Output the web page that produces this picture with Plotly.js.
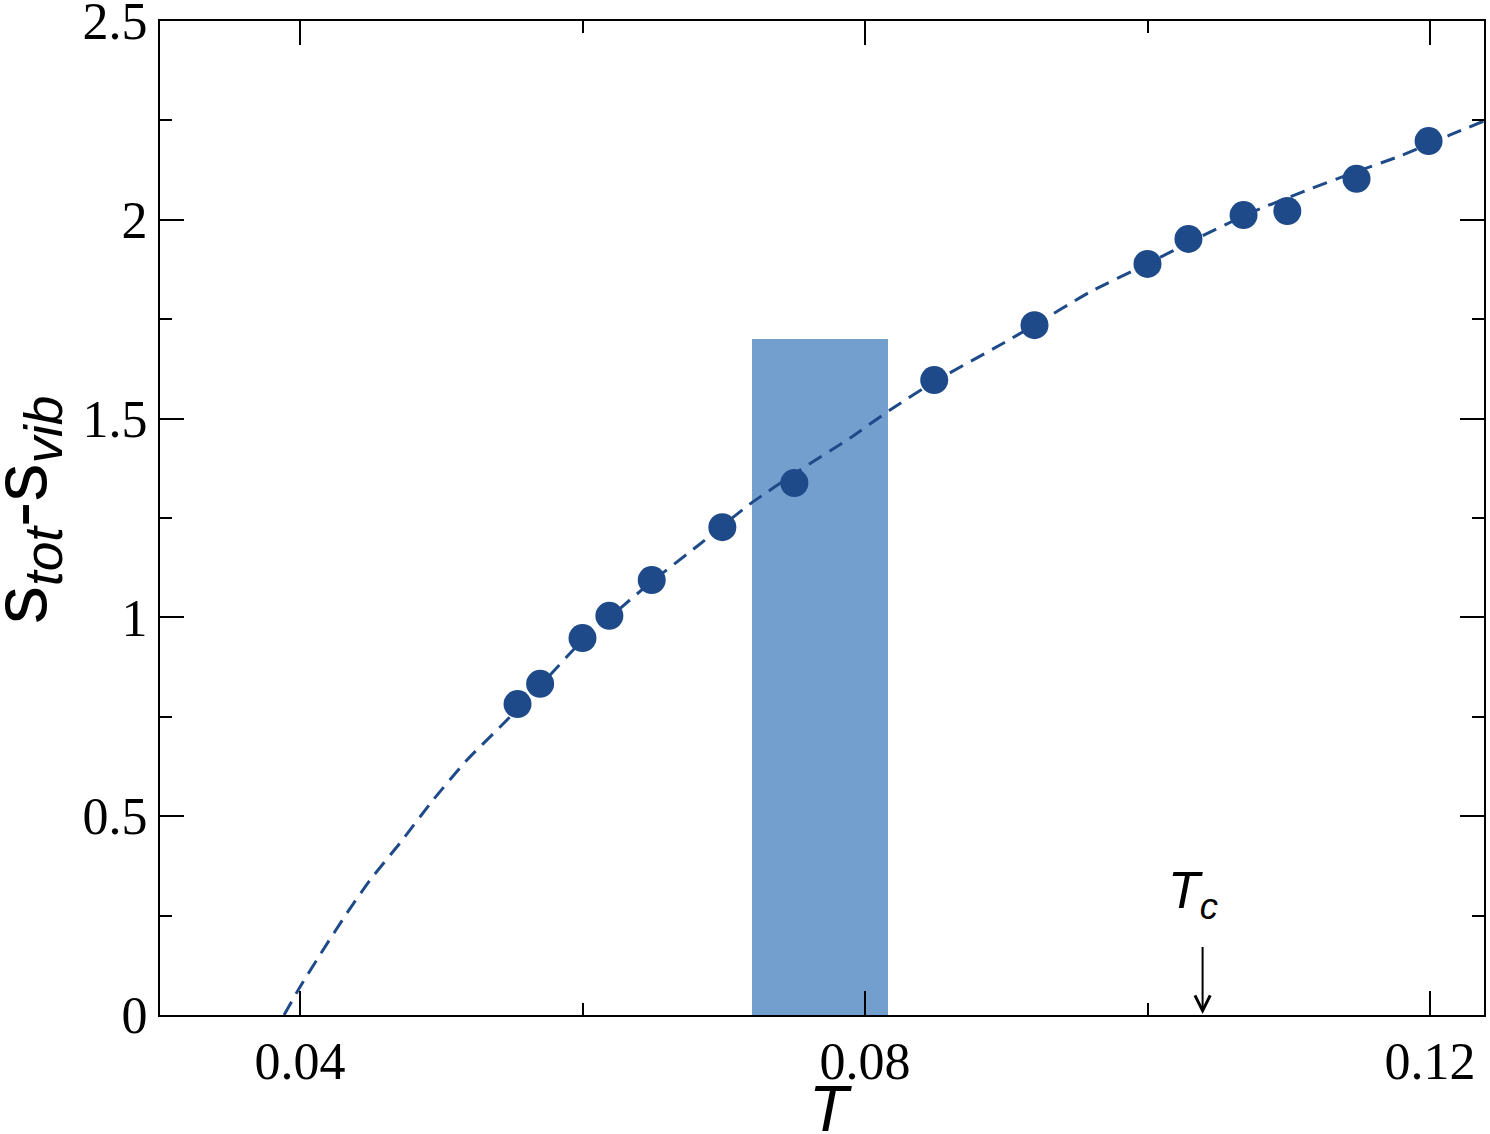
<!DOCTYPE html>
<html>
<head>
<meta charset="utf-8">
<script src="https://cdn.plot.ly/plotly-3.0.1.min.js"></script>
<style>html,body{margin:0;padding:0;background:#fff;}#chart{width:1490px;height:1134px;}</style>
</head>
<body>
<div id="chart"></div>
<script>
// Simulation points
const T_points = [0.0554, 0.0570, 0.0600, 0.0619, 0.0649, 0.0699, 0.0750, 0.0849, 0.0920, 0.1000, 0.1029, 0.1068, 0.1099, 0.1148, 0.1199];
const S_points = [0.782, 0.833, 0.948, 1.004, 1.094, 1.227, 1.338, 1.597, 1.735, 1.889, 1.952, 2.012, 2.022, 2.103, 2.198];

// Dashed fit curve
const T_fit = [0.03887, 0.04000, 0.04163, 0.04333, 0.04496, 0.04708, 0.04942, 0.05182, 0.05416, 0.05699, 0.05982, 0.06195, 0.06478, 0.06832, 0.07186, 0.07540, 0.07894, 0.08177, 0.08488, 0.08956, 0.09189, 0.09593, 0.09996, 0.10372, 0.10726, 0.11150, 0.11434, 0.11788, 0.12142, 0.12382];
const S_fit = [0.0, 0.0704, 0.1635, 0.2565, 0.3395, 0.4326, 0.5407, 0.6413, 0.7243, 0.8275, 0.9356, 1.0010, 1.0865, 1.1846, 1.2852, 1.3707, 1.4512, 1.5216, 1.5921, 1.6851, 1.7329, 1.8184, 1.8888, 1.9567, 2.0171, 2.0775, 2.1152, 2.1605, 2.2133, 2.2485];

// Shaded band
const band_T_center = [0.0768];
const band_width = [0.0096];
const band_height = [1.70];

// Tc marker
const Tc = 0.1039;

const xTickVals = [0.04, 0.08, 0.12];
const xTickText = ['0.04', '0.08', '0.12'];
const yTickVals = [0, 0.5, 1, 1.5, 2, 2.5];
const yTickText = ['0', '0.5', '1', '1.5', '2', '2.5'];

const dark = 'rgb(31,74,137)';

const traces = [
  {
    type: 'bar', x: band_T_center, y: band_height, width: band_width,
    marker: {color: 'rgb(115,159,207)', line: {width: 0}},
    hoverinfo: 'skip', showlegend: false
  },
  {
    type: 'scatter', mode: 'lines', x: T_fit, y: S_fit,
    line: {color: dark, width: 3, dash: '15px,9px', shape: 'spline', smoothing: 0.6},
    showlegend: false, cliponaxis: true
  },
  {
    type: 'scatter', mode: 'markers', x: T_points, y: S_points,
    marker: {color: dark, size: 28, line: {width: 0}},
    showlegend: false, cliponaxis: false
  }
];

const axisCommon = {
  showline: true, linecolor: '#000', linewidth: 2, mirror: 'allticks',
  ticks: 'inside', ticklen: 24, tickwidth: 2, tickcolor: '#000',
  showgrid: false, zeroline: false, ticklabeloverflow: 'allow',
  tickfont: {family: 'Liberation Serif, Times New Roman, serif', size: 52, color: '#000'}
};

const sansFont = 'Liberation Sans, Arial, sans-serif';

const layout = {
  width: 1490, height: 1134,
  margin: {l: 160, r: 6, t: 21, b: 119},
  paper_bgcolor: '#fff', plot_bgcolor: '#fff',
  bargap: 0,
  xaxis: Object.assign({}, axisCommon, {
    range: [0.030088, 0.123823],
    tickmode: 'array', tickvals: xTickVals, ticktext: xTickText,
    minor: {ticks: 'inside', ticklen: 12, tickwidth: 2, tickcolor: '#000', tickvals: [0.06, 0.10], showgrid: false}
  }),
  yaxis: Object.assign({}, axisCommon, {
    range: [0, 2.5],
    tickmode: 'array', tickvals: yTickVals, ticktext: yTickText,
    minor: {ticks: 'inside', ticklen: 12, tickwidth: 2, tickcolor: '#000', tickvals: [0.25, 0.75, 1.25, 1.75, 2.25], showgrid: false}
  }),
  annotations: [
    {
      // x-axis title
      xref: 'paper', yref: 'paper', x: 0.5, y: 0, xanchor: 'center', yanchor: 'middle',
      xshift: 8, yshift: -94, showarrow: false,
      text: '<i>T</i>', font: {family: sansFont, size: 64, color: '#000'}
    },
    {
      // y-axis title
      xref: 'paper', yref: 'paper', x: 0, y: 0.508, xanchor: 'center', yanchor: 'middle',
      xshift: -135, textangle: -90, showarrow: false,
      text: 's<sub><i>tot</i></sub>-s<sub><i>vib</i></sub>', font: {family: sansFont, size: 76, color: '#000'}
    },
    {
      // Tc arrow
      x: Tc, y: 0, xref: 'x', yref: 'y',
      text: ' ', font: {size: 2, color: '#000'},
      showarrow: true, arrowhead: 5, arrowsize: 1.5, arrowwidth: 2, arrowcolor: '#000',
      ax: 0, ay: -71, standoff: 1
    },
    {
      // Tc label
      x: Tc, y: 0, xref: 'x', yref: 'y', xanchor: 'center', yanchor: 'middle',
      xshift: -10, yshift: 121, showarrow: false,
      text: '<i>T<sub>c</sub></i>', font: {family: sansFont, size: 52, color: '#000'}
    }
  ]
};

Plotly.newPlot('chart', traces, layout, {displayModeBar: false, staticPlot: true});
</script>
</body>
</html>
